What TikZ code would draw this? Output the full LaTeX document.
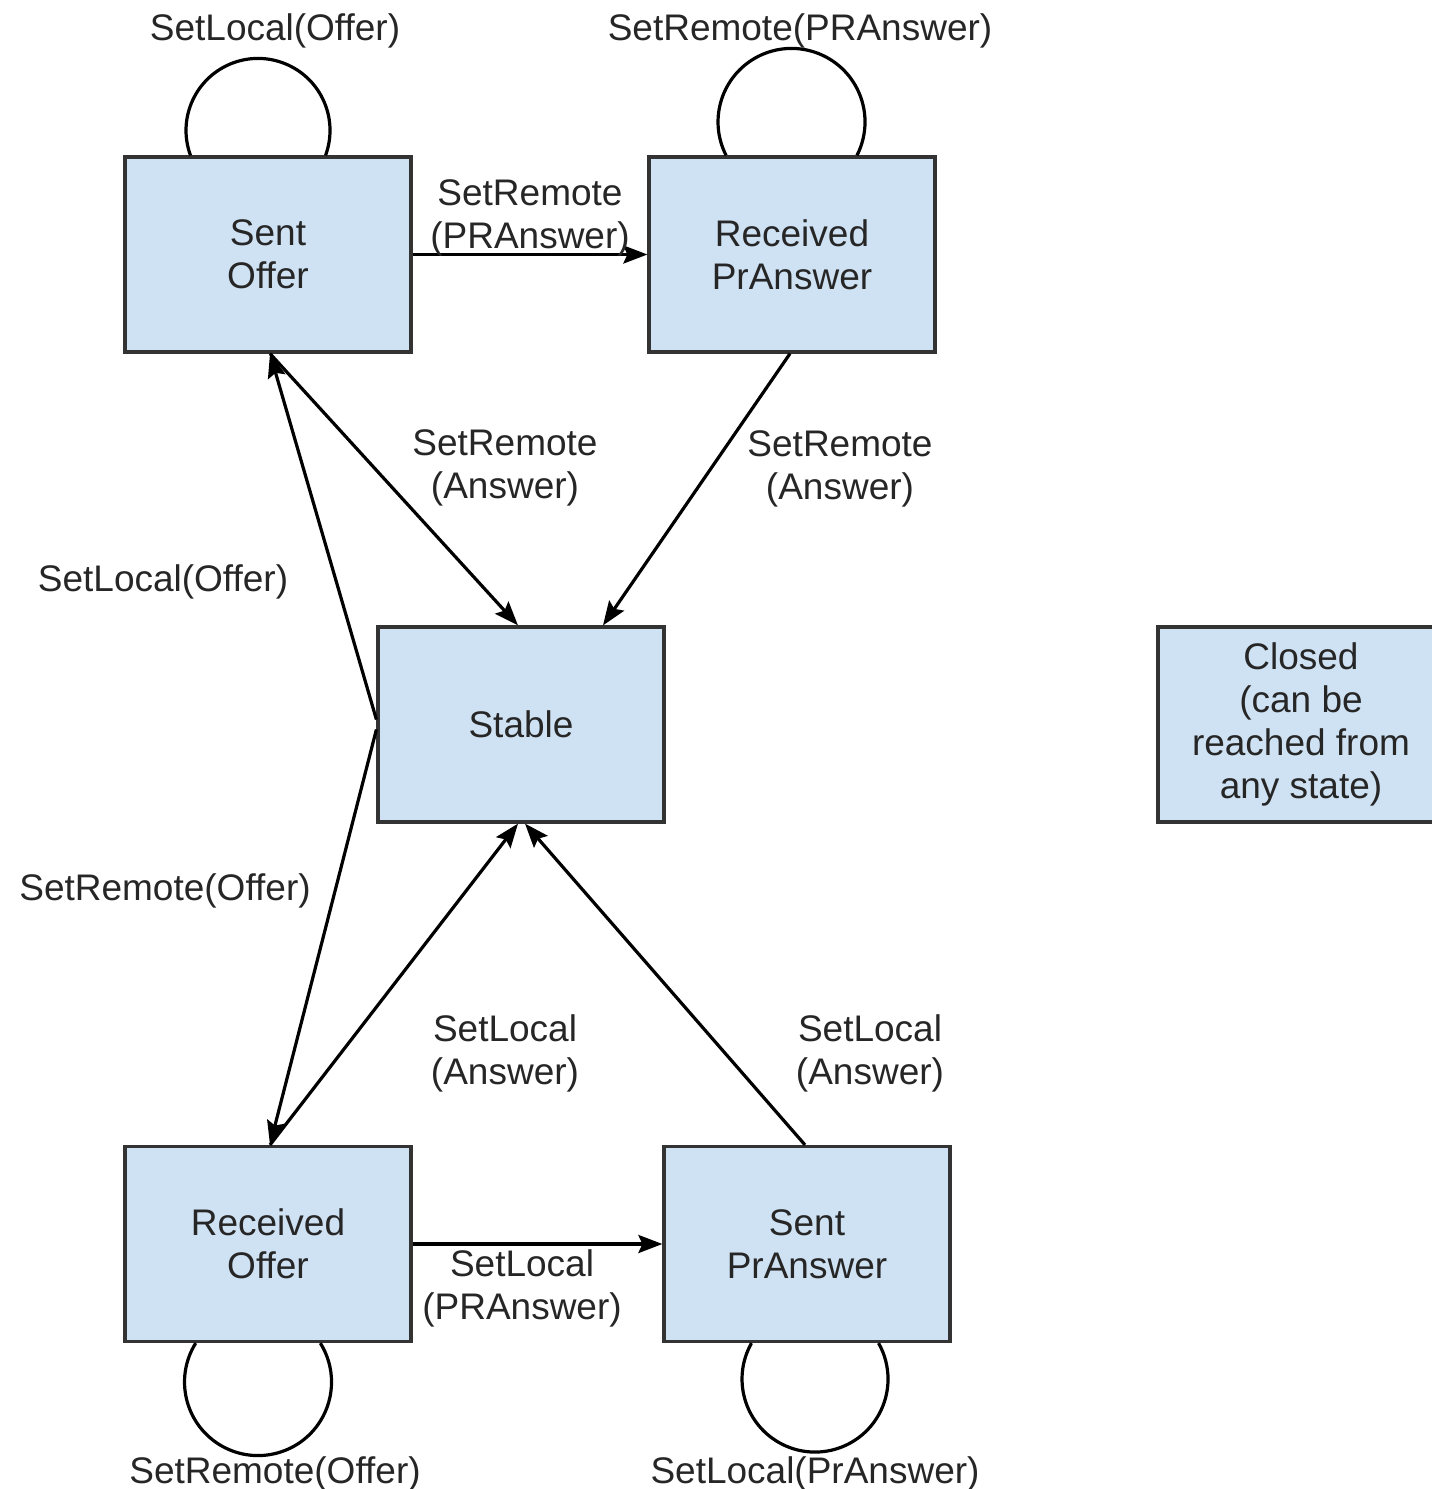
\documentclass[tikz,border=0pt]{standalone}
\usepackage{fontspec}
\setmainfont{Liberation Sans}
\usetikzlibrary{arrows.meta}
\definecolor{boxfill}{HTML}{CFE2F3}
\definecolor{boxline}{HTML}{333333}
\definecolor{txt}{HTML}{262626}
\tikzset{
  state/.style={draw=boxline, fill=boxfill, line width=3.2pt, minimum width=286pt, minimum height=195pt,
    align=center, inner sep=0pt, text=txt, font=\fontsize{37}{43}\selectfont},
  lbl/.style={align=center, inner sep=0pt, text=txt, font=\fontsize{37}{43}\selectfont, yshift=-4pt},
  edge/.style={draw=black, line width=3.2pt, -{Stealth[length=24pt,width=18pt,inset=4pt]}},
  loopline/.style={draw=black, line width=3.2pt}
}
\begin{document}
\begin{tikzpicture}[x=1pt,y=1pt]
\useasboundingbox (0,0) rectangle (1432,-1489);
% states
\node[state] (so) at (268,-254.5) {Sent\\Offer};
\node[state] (rp) at (792,-254.5) {Received\\PrAnswer};
\node[state] (st) at (521,-724.5) {Stable};
\node[state] (cl) at (1301,-724.5) {Closed\\(can be\\reached from\\any state)};
\node[state] (ro) at (268,-1244) {Received\\Offer};
\node[state] (sp) at (807,-1244) {Sent\\PrAnswer};

% connectors
\draw[edge] (so.east) -- (rp.west);
\draw[edge] ([yshift=5pt]st.west) -- ([xshift=2pt]so.south);
\draw[edge] ([xshift=2pt]so.south) -- ([xshift=-3pt]st.north);
\draw[edge] ([xshift=-2pt]rp.south) -- ([xshift=82pt]st.north);
\draw[edge] ([yshift=-5pt]st.west) -- ([xshift=2pt]ro.north);
\draw[edge] ([xshift=2pt]ro.north) -- ([xshift=-3pt]st.south);
\draw[edge] ([xshift=-2pt]sp.north) -- ([xshift=4pt]st.south);
\draw[edge] (ro.east) -- (sp.west);

% self loops
\draw[loopline] ([xshift=-77.5pt]so.north) arc[start angle=200.3, end angle=-20.3, radius=72];
\draw[loopline] ([xshift=-65.9pt]rp.north) arc[start angle=207.1, end angle=-27.1, radius=73.5];
\draw[loopline] ([xshift=-72.3pt]ro.south) arc[start angle=148, end angle=392, radius=73.5];
\draw[loopline] ([xshift=-55.5pt]sp.south) arc[start angle=150.5, end angle=389.5, radius=73];

% labels
\node[lbl] (l1) at (275,-27) {SetLocal(Offer)};
\node[lbl] (l2) at (800,-27) {SetRemote(PRAnswer)};
\node[lbl] (l3) at (530,-214) {SetRemote\\(PRAnswer)};
\node[lbl] (l4) at (505,-464) {SetRemote\\(Answer)};
\node[lbl] (l5) at (840,-465) {SetRemote\\(Answer)};
\node[lbl] (l6) at (163,-578) {SetLocal(Offer)};
\node[lbl] (l7) at (165,-887) {SetRemote(Offer)};
\node[lbl] (l8) at (505,-1049) {SetLocal\\(Answer)};
\node[lbl] (l9) at (870,-1049) {SetLocal\\(Answer)};
\node[lbl] (l10) at (522,-1284) {SetLocal\\(PRAnswer)};
\node[lbl] (l11) at (275,-1470) {SetRemote(Offer)};
\node[lbl] (l12) at (815,-1470) {SetLocal(PrAnswer)};
\end{tikzpicture}
\end{document}
